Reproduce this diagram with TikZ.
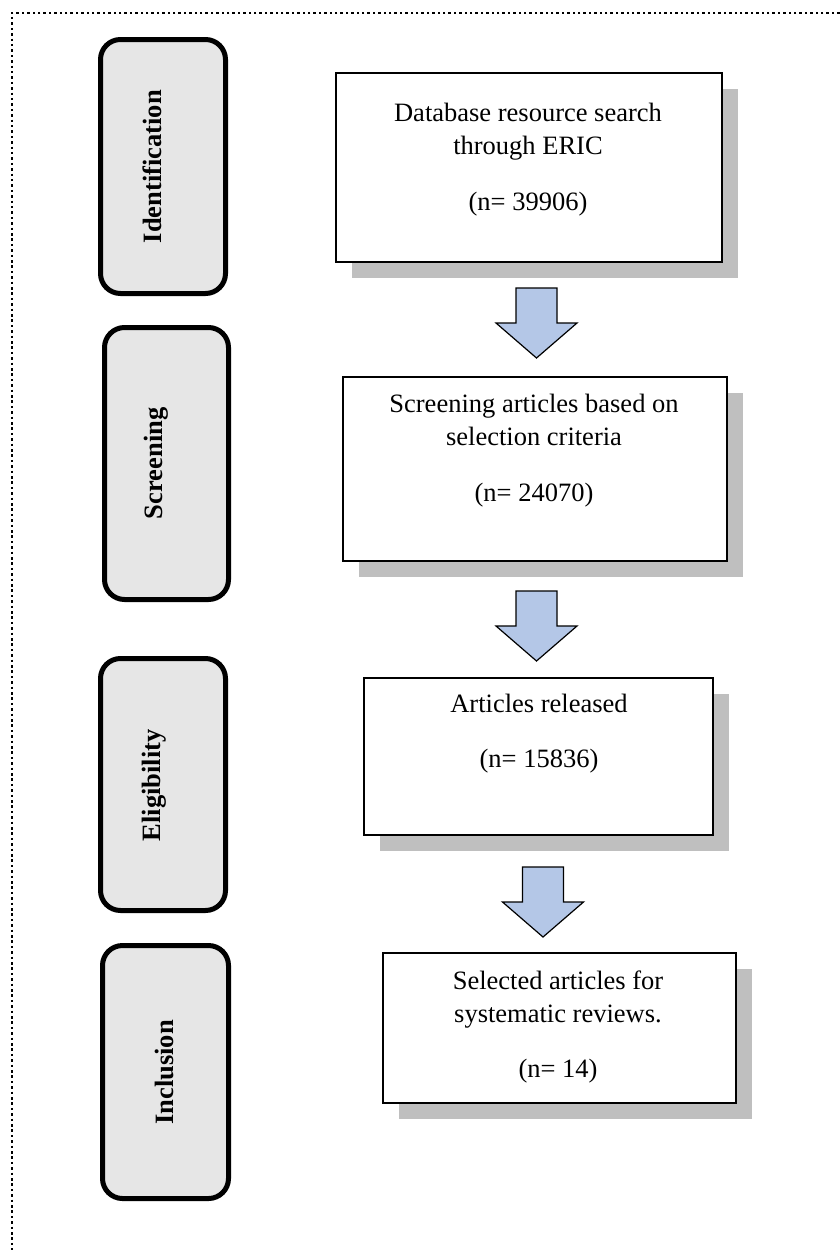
\documentclass[tikz,border=0pt]{standalone}
\usepackage{fontspec}
\setmainfont{Liberation Serif}
\usetikzlibrary{shadows}
\definecolor{arrowblue}{HTML}{B4C7E7}
\definecolor{phasegray}{HTML}{E6E6E6}
\definecolor{shadowgray}{HTML}{BFBFBF}
\tikzset{
  phasebox/.style={draw=black, line width=5pt, rounded corners=20pt, fill=phasegray, inner sep=0pt},
  phaselabel/.style={rotate=90, font=\fontsize{26.5}{33}\selectfont\bfseries, inner sep=0pt},
  stepbox/.style={draw=black, line width=2pt, fill=white, inner sep=0pt,
    drop shadow={shadow xshift=16pt, shadow yshift=-16pt, fill=shadowgray, opacity=1}},
  steptext/.style={align=center, font=\fontsize{26.5}{33}\selectfont, inner sep=0pt},
  blockarrow/.style={draw=black, line width=1.2pt, fill=arrowblue, line join=miter},
  frameline/.style={line width=2.2pt, dash pattern=on 2.5pt off 2.9pt}
}
\newcommand{\mkblockarrow}[3]{% center x, top y, tip y
  \pgfmathsetmacro{\hy}{(#2+#3)/2}
  \draw[blockarrow] (#1-20.5,#2) -- (#1+20.5,#2) -- (#1+20.5,\hy) -- (#1+40.5,\hy)
    -- (#1,#3) -- (#1-40.5,\hy) -- (#1-20.5,\hy) -- cycle;
}
\begin{document}
\begin{tikzpicture}[x=1pt, y=-1pt]
\useasboundingbox (0,0) rectangle (840,1250);
% dotted frame (continues beyond the picture on the right and bottom)
\coordinate (fc) at (12,13);
\coordinate (fr) at (845,13);
\coordinate (fb) at (12,1255);
\draw[frameline] (fr) -- (fc) -- (fb);

% phase boxes
\node[phasebox, minimum width=125pt, minimum height=254pt] (p1) at (163,166.5) {};
\node[phaselabel] (l1) at (152,166.7) {Identification};
\node[phasebox, minimum width=124pt, minimum height=272pt] (p2) at (166.5,463.5) {};
\node[phaselabel] (l2) at (156,463.3) {Screening};
\node[phasebox, minimum width=125pt, minimum height=252pt] (p3) at (163,784.5) {};
\node[phaselabel] (l3) at (154.5,785.3) {Eligibility};
\node[phasebox, minimum width=126pt, minimum height=253pt] (p4) at (165.5,1072) {};
\node[phaselabel] (l4) at (164,1072.5) {Inclusion};

% step boxes
\node[stepbox, minimum width=386pt, minimum height=189pt] (b1) at (529,167.5) {};
\node[steptext] (t1) at (528,160) {Database resource search\\through ERIC\\[23pt](n= 39906)};
\node[stepbox, minimum width=384pt, minimum height=184pt] (b2) at (535,469) {};
\node[steptext] (t2) at (534,450.5) {Screening articles based on\\selection criteria\\[23pt](n= 24070)};
\node[stepbox, minimum width=349pt, minimum height=157pt] (b3) at (538.5,756.5) {};
\node[steptext] (t3) at (539,734) {Articles released\\[22pt](n= 15836)};
\node[stepbox, minimum width=353pt, minimum height=150pt] (b4) at (559.5,1028) {};
\node[steptext] (t4) at (558,1026.5) {Selected articles for\\systematic reviews.\\[22pt](n= 14)};

% block arrows between steps
\mkblockarrow{536.5}{288}{358}
\mkblockarrow{536.5}{591}{661}
\mkblockarrow{543}{867}{937}
\end{tikzpicture}
\end{document}
